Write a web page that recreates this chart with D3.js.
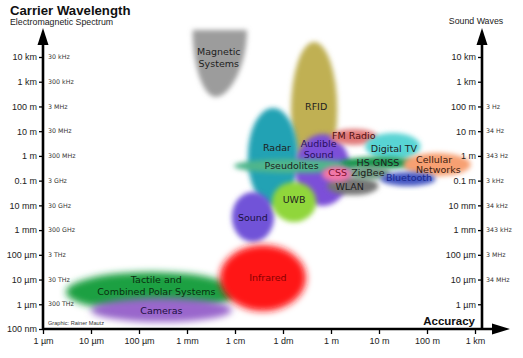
<!DOCTYPE html>
<html><head><meta charset="utf-8">
<script src="https://cdn.jsdelivr.net/npm/d3@7"></script>
<style>body{margin:0;background:#fff}svg{display:block}</style>
</head><body><svg id="c" width="523" height="358"></svg>
<script>
// ---------- data ----------
const yTickValues = [1e4, 1e3, 1e2, 1e1, 1, 1e-1, 1e-2, 1e-3, 1e-4, 1e-5, 1e-6, 1e-7];
const yTickLabels = ["10 km", "1 km", "100 m", "10 m", "1 m", "0.1 m", "10 mm", "1 mm", "100 µm", "10 µm", "1 µm", "100 nm"];
const emFreqLabels = ["30 kHz", "300 kHz", "3 MHz", "30 MHz", "300 MHz", "3 GHz", "30 GHz", "300 GHz", "3 THz", "30 THz", "300 THz", ""];
const soundFreqLabels = ["", "", "3 Hz", "34 Hz", "343 Hz", "3 kHz", "34 kHz", "343 kHz", "3 MHz", "34 MHz", ""];
const xTickValues = [1e-6, 1e-5, 1e-4, 1e-3, 1e-2, 1e-1, 1, 10, 100, 1000];
const xTickLabels = ["1 µm", "10 µm", "100 µm", "1 mm", "1 cm", "1 dm", "1 m", "10 m", "100 m", "1 km"];

// technologies: accuracy range (m) and carrier wavelength range (m)
const techNames = ["Magnetic\nSystems", "RFID", "Radar", "Audible\nSound", "Sound", "Pseudolites", "UWB",
  "FM Radio", "Digital TV", "HS GNSS", "Cellular\nNetworks", "WLAN", "ZigBee", "Bluetooth", "CSS",
  "Tactile and\nCombined Polar Systems", "Cameras", "Infrared"];
const accMin = [1.31e-3, 0.147, 0.0185, 0.178, 8.6e-3, 0.0095, 0.059, 0.96, 5.2, 1.56, 32, 0.83, 2.18, 10.7, 0.65, 3.0e-6, 1.0e-5, 4.8e-3];
const accMax = [1.77e-2, 1.35, 0.206, 2.52, 0.065, 3.53, 0.49, 9.3, 73, 58, 817, 9.7, 17.3, 151, 2.65, 0.0109, 8.6e-3, 0.303];
const wlMin  = [242, 0.128, 9.4e-3, 9.4e-3, 3.3e-4, 0.204, 2.13e-3, 2.77, 0.68, 0.296, 0.154, 0.026, 0.106, 0.061, 0.088, 4.9e-7, 1.9e-7, 5.4e-7];
const wlMax  = [1.23e5, 4.04e4, 86.7, 7.7, 0.0348, 0.75, 0.088, 12.3, 8.5, 0.90, 1.31, 0.14, 0.39, 0.224, 0.39, 2.0e-5, 1.8e-6, 2.5e-4];

// ---------- styles ----------
const fillColors = {
  "Magnetic\nSystems": "#9c9c9c", "RFID": "#c0b052", "Radar": "#24a2b4", "Audible\nSound": "#7b50d8",
  "Sound": "#7153d8", "Pseudolites": "#4fb68c", "UWB": "#90d63a", "FM Radio": "#e07878",
  "Digital TV": "#58d4d4", "HS GNSS": "#17944c", "Cellular\nNetworks": "#f7a072", "WLAN": "#767676",
  "ZigBee": "#6f9a82", "Bluetooth": "#4456c2", "CSS": "#f278a8",
  "Tactile and\nCombined Polar Systems": "#1ea042", "Cameras": "#9a66cc", "Infrared": "#ff1414"
};
const textColors = {
  "Audible\nSound": "#2a1060", "Sound": "#1a1040", "Infrared": "#8a0000", "Cameras": "#201040",
  "CSS": "#801030", "Bluetooth": "#1a2a90", "FM Radio": "#501010", "Cellular\nNetworks": "#402010",
  "Tactile and\nCombined Polar Systems": "#0a3010"
};
const labelLayout = {
  "Magnetic\nSystems": {dx: -1, dy: -6, lh: 11.5}, "RFID": {dx: 2, dy: -3}, "Radar": {dx: 4, dy: -9},
  "Audible\nSound": {dx: -4, dy: -21, lh: 10.5}, "Sound": {dx: 0, dy: 1}, "UWB": {dx: 0, dy: -2},
  "Infrared": {dx: 5, dy: 0}, "Tactile and\nCombined Polar Systems": {dx: 5, dy: -6, lh: 12},
  "Cameras": {dx: 0, dy: 1}, "Pseudolites": {dx: -4, dy: 0}, "FM Radio": {dx: 0, dy: -1},
  "Digital TV": {dx: 1, dy: 2}, "HS GNSS": {dx: 0, dy: 0}, "Cellular\nNetworks": {dx: -21, dy: 0, lh: 10.5, anchor: "start"},
  "CSS": {dx: 1, dy: -1}, "ZigBee": {dx: -1, dy: 0}, "Bluetooth": {dx: 1, dy: -1}, "WLAN": {dx: -3, dy: 1}
};

// ---------- chart ----------
const svg = d3.select("#c");
svg.append("rect").attr("width", 523).attr("height", 358).attr("fill", "#fff");

const x = d3.scaleLog().domain([1e-6, 1e3]).range([43, 475]);
const y = d3.scaleLog().domain([1e4, 1e-7]).range([57, 329]);
const leftX = 43, rightX = 482, axisY = 329;

const defs = svg.append("defs");
defs.append("filter").attr("id", "blur").attr("x", "-30%").attr("y", "-30%").attr("width", "160%").attr("height", "160%")
  .append("feGaussianBlur").attr("stdDeviation", 2.4);
defs.append("filter").attr("id", "blur2").attr("x", "-30%").attr("y", "-30%").attr("width", "160%").attr("height", "160%")
  .append("feGaussianBlur").attr("stdDeviation", 3.5);

const blobs = techNames.map((n, i) => {
  const x0 = x(accMin[i]), x1 = x(accMax[i]), y0 = y(wlMax[i]), y1 = y(wlMin[i]);
  return {name: n, x0, x1, y0, y1, cx: (x0 + x1) / 2, cy: (y0 + y1) / 2, rx: (x1 - x0) / 2, ry: (y1 - y0) / 2};
});

const gBlobs = svg.append("g");
blobs.forEach(b => {
  const f = (b.name === "Infrared" || b.name.startsWith("Tactile") || b.name === "Cameras") ? "url(#blur2)" : "url(#blur)";
  if (b.name.startsWith("Magnetic")) {
    const rx = b.rx, h = b.y1 - b.y0;
    gBlobs.append("path")
      .attr("d", `M${b.x0},${b.y0} L${b.x1},${b.y0} C${b.x1},${b.y0 + h * 0.55} ${b.cx + rx * 0.35},${b.y1} ${b.cx - 4},${b.y1} C${b.cx - rx * 0.6},${b.y1} ${b.x0},${b.y0 + h * 0.55} ${b.x0},${b.y0} Z`)
      .attr("fill", fillColors[b.name]).attr("filter", f);
  } else {
    gBlobs.append("ellipse").attr("cx", b.cx).attr("cy", b.cy).attr("rx", b.rx).attr("ry", b.ry)
      .attr("fill", fillColors[b.name]).attr("filter", f);
  }
});

const gLabels = svg.append("g").attr("font-family", "DejaVu Sans, Verdana, sans-serif").attr("font-size", 9.5);
blobs.forEach(b => {
  const L = labelLayout[b.name] || {dx: 0, dy: 0};
  const lines = b.name.split("\n");
  const lh = L.lh || 10;
  const t = gLabels.append("text")
    .attr("x", b.cx + L.dx).attr("y", b.cy + L.dy)
    .attr("text-anchor", L.anchor || "middle")
    .attr("fill", textColors[b.name] || "#1e1e1e");
  lines.forEach((s, k) => {
    t.append("tspan").attr("x", b.cx + L.dx)
      .attr("y", b.cy + L.dy + (k - (lines.length - 1) / 2) * lh)
      .attr("dy", "0.35em").text(s);
  });
});

// axes
const axG = svg.append("g");
const lineW = 2.6;
axG.append("line").attr("x1", leftX).attr("x2", leftX).attr("y1", axisY + 1).attr("y2", 40).attr("stroke", "#000").attr("stroke-width", lineW);
axG.append("path").attr("d", `M${leftX - 5.5},45 L${leftX},28 L${leftX + 5.5},45 Z`).attr("fill", "#000");
axG.append("line").attr("x1", rightX).attr("x2", rightX).attr("y1", axisY + 1).attr("y2", 40).attr("stroke", "#000").attr("stroke-width", lineW);
axG.append("path").attr("d", `M${rightX - 5.5},45 L${rightX},28 L${rightX + 5.5},45 Z`).attr("fill", "#000");
axG.append("line").attr("x1", leftX - 1).attr("x2", 496).attr("y1", axisY).attr("y2", axisY).attr("stroke", "#000").attr("stroke-width", lineW);
axG.append("path").attr("d", `M492,${axisY - 5.5} L510,${axisY} L492,${axisY + 5.5} Z`).attr("fill", "#000");

// left ticks
const leftAxis = d3.axisLeft(y).tickValues(yTickValues).tickFormat((d, i) => yTickLabels[i]).tickSize(3).tickPadding(2);
const gl = svg.append("g").attr("transform", `translate(${leftX - 1},0)`).call(leftAxis);
gl.select(".domain").remove();
gl.selectAll("text").attr("font-family", "Liberation Sans, Arial, sans-serif").attr("font-size", 9).attr("fill", "#222");
gl.selectAll("line").attr("stroke", "#000").attr("stroke-width", 1.3);

svg.append("g").selectAll("text").data(yTickValues).join("text")
  .attr("x", leftX + 5).attr("y", d => y(d)).attr("dy", "0.35em")
  .attr("font-family", "DejaVu Sans, Verdana, sans-serif").attr("font-size", 6.3).attr("fill", "#333")
  .text((d, i) => emFreqLabels[i]);

// right ticks
const rightVals = yTickValues.slice(0, 11);
const rightAxis = d3.axisLeft(y).tickValues(rightVals).tickFormat((d, i) => yTickLabels[i]).tickSize(3).tickPadding(2);
const gr = svg.append("g").attr("transform", `translate(${rightX - 1},0)`).call(rightAxis);
gr.select(".domain").remove();
gr.selectAll("text").attr("font-family", "Liberation Sans, Arial, sans-serif").attr("font-size", 9).attr("fill", "#222");
gr.selectAll("line").attr("stroke", "#000").attr("stroke-width", 1.3);
svg.append("g").selectAll("text").data(rightVals).join("text")
  .attr("x", rightX + 4).attr("y", d => y(d)).attr("dy", "0.35em")
  .attr("font-family", "DejaVu Sans, Verdana, sans-serif").attr("font-size", 6.3).attr("fill", "#333")
  .text((d, i) => soundFreqLabels[i]);

// bottom ticks
const bottomAxis = d3.axisBottom(x).tickValues(xTickValues).tickFormat((d, i) => xTickLabels[i]).tickSize(4).tickPadding(4);
const gb = svg.append("g").attr("transform", `translate(0,${axisY + 1})`).call(bottomAxis);
gb.select(".domain").remove();
gb.selectAll("text").attr("font-family", "Liberation Sans, Arial, sans-serif").attr("font-size", 9).attr("fill", "#222");
gb.selectAll("line").attr("stroke", "#000").attr("stroke-width", 1.3);

// titles
svg.append("text").attr("x", 10).attr("y", 15).attr("font-family", "Liberation Sans, Arial, sans-serif")
  .attr("font-weight", "bold").attr("font-size", 13.2).attr("fill", "#111").text("Carrier Wavelength");
svg.append("text").attr("x", 10).attr("y", 24.5).attr("font-family", "Liberation Sans, Arial, sans-serif")
  .attr("font-size", 8.8).attr("fill", "#222").text("Electromagnetic Spectrum");
svg.append("text").attr("x", 476).attr("y", 24).attr("text-anchor", "middle").attr("font-family", "Liberation Sans, Arial, sans-serif")
  .attr("font-size", 8.8).attr("fill", "#222").text("Sound Waves");
svg.append("text").attr("x", 475).attr("y", 325).attr("text-anchor", "end").attr("font-family", "Liberation Sans, Arial, sans-serif")
  .attr("font-weight", "bold").attr("font-size", 11.5).attr("fill", "#111").text("Accuracy");
svg.append("text").attr("x", 48).attr("y", 325).attr("font-family", "Liberation Sans, Arial, sans-serif")
  .attr("font-size", 5.6).attr("fill", "#333").text("Graphic: Rainer Mautz");
</script>
</body></html>
